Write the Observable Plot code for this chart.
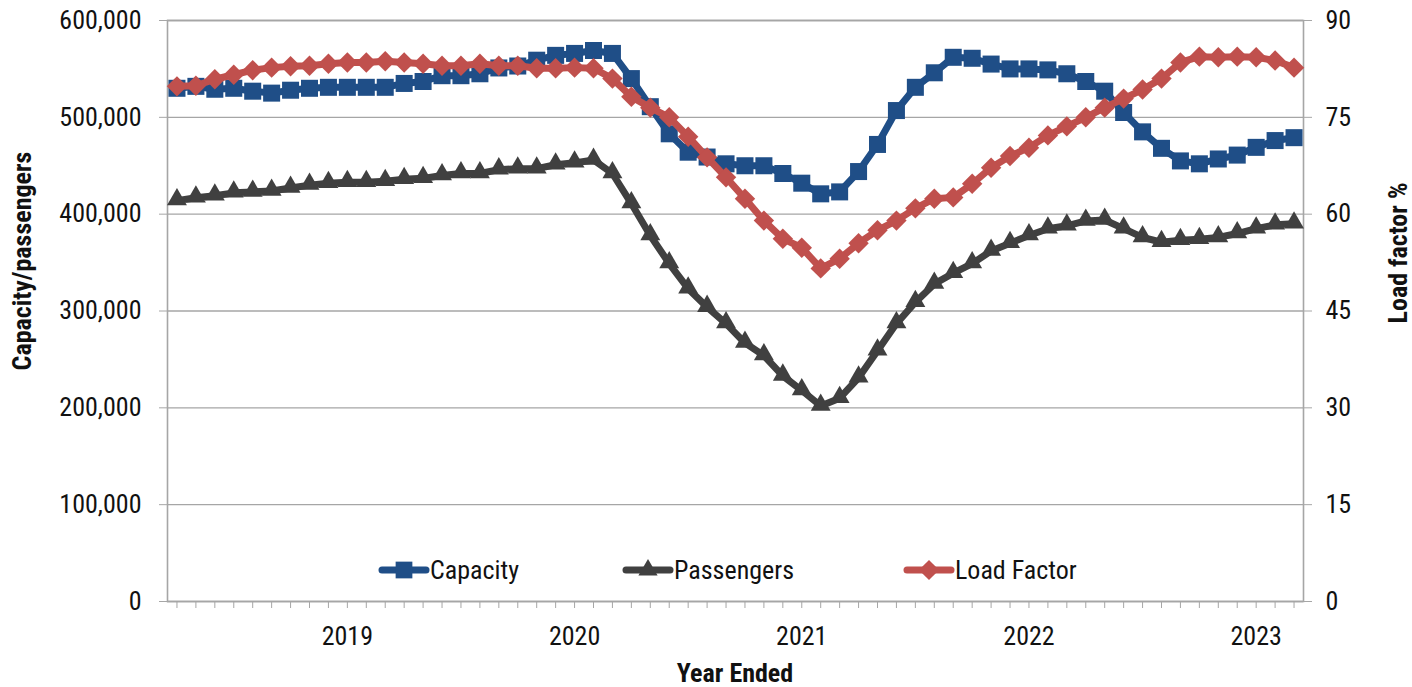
<!DOCTYPE html>
<html><head><meta charset="utf-8">
<script src="https://cdn.jsdelivr.net/npm/d3@7"></script>
<script src="https://cdn.jsdelivr.net/npm/@observablehq/plot@0.6"></script>
<style>
body{margin:0;background:#fff;}
#wrap{position:relative;width:1412px;height:687px;overflow:hidden;font-family:"Liberation Sans Narrow","Arial Narrow","Roboto Condensed","Liberation Sans",sans-serif;color:#111;}
#wrap svg.plot{position:absolute;left:0;top:0;}
.ttl{position:absolute;font-weight:bold;font-size:26px;white-space:nowrap;transform:translate(-50%,-50%);}
.rot{transform:translate(-50%,-50%) rotate(-90deg);}
.leg{position:absolute;display:flex;align-items:center;font-size:26px;white-space:nowrap;transform:translateY(-50%);}
</style></head><body><div id="wrap"></div>
<script>
// Year ended: monthly, April 2018 .. March 2023
const months = d3.utcMonths(new Date(Date.UTC(2018,3,1)), new Date(Date.UTC(2023,3,1))).map(d3.utcFormat("%Y-%m"));
// Capacity (thousands of seats)
const capacity = [530,532,529,530,527,525,528,530,531,531,531,531,535,537,543,543,545,551,553,559,
  564,566,569,566,540,511,483,464,459,452,450,450,442,432,421,423,444,472,507,531,
  546,562,561,555,550,550,549,545,537,527,505,485,468,455,452,457,461,469,476,479];
// Passengers (thousands)
const passengers = [414,417,419,422,423,424,427,430,432,433,433,434,436,437,440,442,442,446,447,447,
  451,453,456,442,411,378,349,323,304,287,267,254,233,218,202,210,231,259,287,309,
  328,339,349,362,370,378,385,388,393,394,385,376,371,373,374,376,380,385,389,390];
// Load factor (%)
const loadFactor = [79.8,79.9,80.9,81.6,82.3,82.7,82.9,83.0,83.3,83.5,83.5,83.7,83.5,83.3,83.0,83.0,83.3,83.0,83.0,82.6,
  82.6,82.7,82.6,81.0,78.2,76.5,75.0,72.0,68.8,65.7,62.4,59.0,56.2,54.8,51.6,53.1,55.5,57.5,59.0,60.9,
  62.4,62.6,64.7,67.2,69.0,70.3,72.2,73.6,75.0,76.5,77.9,79.3,81.0,83.5,84.4,84.3,84.4,84.3,83.8,82.7];
const yTicks = [0,100000,200000,300000,400000,500000,600000];
const lfTicks = [0,15,30,45,60,75,90];
const yearTicks = ["2019-01","2020-01","2021-01","2022-01","2023-01"];
const yearLabels = ["2019","2020","2021","2022","2023"];
const seriesNames = ["Capacity","Passengers","Load Factor"];
const colors = ["#1F4E87","#404040","#C0504D"];

const k = 600000/90; // load factor -> left-axis units
const data = months.map((m,i)=>({month:m, capacity:capacity[i]*1000, passengers:passengers[i]*1000, lf:loadFactor[i]*k}));
const font = '"Liberation Sans Narrow","Arial Narrow","Roboto Condensed","Liberation Sans",sans-serif';
const grid = "#a6a6a6";
const lineOpts = {strokeWidth:7, strokeLinejoin:"round", strokeLinecap:"round"};

const chart = Plot.plot({
  width:1412, height:687,
  marginLeft:167, marginRight:109, marginTop:20, marginBottom:86,
  style:{fontFamily:font, fontSize:"26px", color:"#111", background:"transparent"},
  x:{type:"point", domain:months, padding:0.5},
  y:{domain:[0,600000]},
  marks:[
    Plot.gridY(yTicks, {stroke:grid, strokeOpacity:1, strokeWidth:1.4}),
    Plot.frame({stroke:grid, strokeWidth:1.6}),
    Plot.axisY({anchor:"left", ticks:yTicks, tickFormat:d3.format(","), tickSize:8, tickPadding:18, stroke:grid, strokeOpacity:1, fill:"#111", fontSize:26, label:null}),
    Plot.axisY({anchor:"right", ticks:yTicks, tickFormat:(d)=>String(lfTicks[yTicks.indexOf(d)]), tickSize:8, tickPadding:14, stroke:grid, strokeOpacity:1, fill:"#111", fontSize:26, label:null}),
    Plot.axisX({ticks:months, tickSize:7, tickFormat:()=>"", stroke:grid, strokeOpacity:1, label:null}),
    Plot.axisX({ticks:yearTicks, tickSize:0, tickPadding:25, tickFormat:d=>yearLabels[yearTicks.indexOf(d)], fill:"#111", fontSize:26, label:null}),
    Plot.line(data, {x:"month", y:"capacity", stroke:colors[0], ...lineOpts}),
    Plot.dot(data, {x:"month", y:"capacity", symbol:"square", r:9.6, fill:colors[0], stroke:null}),
    Plot.line(data, {x:"month", y:"passengers", stroke:colors[1], ...lineOpts}),
    Plot.dot(data, {x:"month", y:"passengers", symbol:"triangle", r:7.4, fill:colors[1], stroke:null, dy:-1}),
    Plot.line(data, {x:"month", y:"lf", stroke:colors[2], ...lineOpts}),
    Plot.dot(data, {x:"month", y:"lf", symbol:"diamond2", r:9.2, fill:colors[2], stroke:null})
  ]
});
chart.classList.add("plot");
const wrap = document.getElementById("wrap");
wrap.appendChild(chart);

function addDiv(cls, text, left, top){
  const d = document.createElement("div");
  d.className = cls; d.textContent = text;
  d.style.left = left+"px"; d.style.top = top+"px";
  wrap.appendChild(d); return d;
}
addDiv("ttl rot", "Capacity/passengers", 22, 261);
addDiv("ttl rot", "Load factor %", 1398, 253);
addDiv("ttl", "Year Ended", 735, 673);

// legend
const legendX = [378, 622, 903];
const symbols = [d3.symbolSquare, d3.symbolTriangle, d3.symbolDiamond2];
const symSize = [280, 160, 260];
seriesNames.forEach((name,i)=>{
  const item = document.createElement("div");
  item.className = "leg";
  item.style.left = legendX[i]+"px"; item.style.top = "570px";
  const s = d3.create("svg").attr("width",52).attr("height",24);
  s.append("line").attr("x1",4).attr("x2",48).attr("y1",12).attr("y2",12)
    .attr("stroke",colors[i]).attr("stroke-width",7).attr("stroke-linecap","round");
  s.append("path").attr("d", d3.symbol(symbols[i], symSize[i])()).attr("transform","translate(26,12)").attr("fill",colors[i]);
  item.appendChild(s.node());
  const t = document.createElement("span"); t.textContent = name;
  item.appendChild(t);
  wrap.appendChild(item);
});
</script></body></html>
